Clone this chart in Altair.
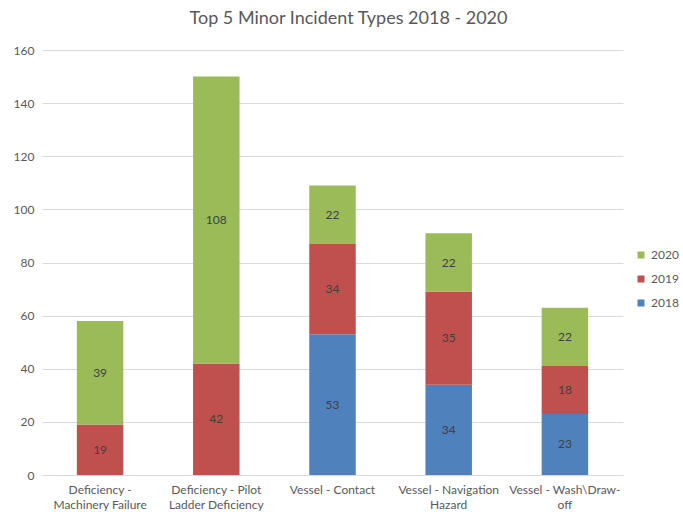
import json
import altair as alt
import pandas as pd

categories = [
    "Deficiency - Machinery Failure",
    "Deficiency - Pilot Ladder Deficiency",
    "Vessel - Contact",
    "Vessel - Navigation Hazard",
    "Vessel - Wash\\Draw-off",
]
tick_labels = [
    ["Deficiency -", "Machinery Failure"],
    ["Deficiency - Pilot", "Ladder Deficiency"],
    ["Vessel - Contact"],
    ["Vessel - Navigation", "Hazard"],
    ["Vessel - Wash\\Draw-", "off"],
]
years = ["2018", "2019", "2020"]
values_2018 = [0, 0, 53, 34, 23]
values_2019 = [19, 42, 34, 35, 18]
values_2020 = [39, 108, 22, 22, 22]
colors = {"2018": "#4F81BD", "2019": "#C0504D", "2020": "#9BBB59"}

rows = []
for yi, (yr, vals) in enumerate(zip(years, [values_2018, values_2019, values_2020])):
    for c, v in zip(categories, vals):
        if v > 0:
            rows.append({"category": c, "year": yr, "order": yi, "value": v})
df = pd.DataFrame(rows)

# label expression for multi-line tick labels
expr = "''"
for c, lines in reversed(list(zip(categories, tick_labels))):
    expr = f"datum.value == {json.dumps(c)} ? {json.dumps(lines)} : ({expr})"

FONT = "Lato"
GRAY = "#595959"

base = alt.Chart(df).transform_stack(
    stack="value", groupby=["category"], as_=["y0", "y1"],
    sort=[alt.SortField("order", order="ascending")]
).transform_calculate(mid="(datum.y0 + datum.y1) / 2")

x_enc = alt.X(
    "category:N", sort=categories, title=None,
    scale=alt.Scale(paddingInner=0.6, paddingOuter=0.3),
    axis=alt.Axis(labelAngle=0, labelExpr=expr, domainColor="#D9D9D9", ticks=False,
                  labelFont=FONT, labelFontSize=12, labelColor=GRAY, labelPadding=9,
                  labelLineHeight=15, labelBaseline="top"),
)

bars = base.mark_bar().encode(
    x=x_enc,
    y=alt.Y("y0:Q", title=None,
            scale=alt.Scale(domain=[0, 160], nice=False),
            axis=alt.Axis(values=list(range(0, 161, 20)), grid=True, gridColor="#D9D9D9",
                          domain=False, ticks=False, labelFont=FONT, labelFontSize=12,
                          labelColor=GRAY, labelPadding=8)),
    y2="y1:Q",
    color=alt.Color("year:N",
                    scale=alt.Scale(domain=["2020", "2019", "2018"],
                                    range=[colors["2020"], colors["2019"], colors["2018"]]),
                    legend=alt.Legend(title=None, orient="none", legendX=593, legendY=199,
                                      symbolType="square", symbolSize=49, symbolStrokeWidth=0,
                                      labelFont=FONT, labelFontSize=12, labelColor=GRAY,
                                      rowPadding=12, labelOffset=4, padding=0)),
)

labels = base.mark_text(font=FONT, fontSize=12, color="#404040").encode(
    x=alt.X("category:N", sort=categories),
    y=alt.Y("mid:Q"),
    text="value:Q",
)

chart = alt.layer(bars, labels).properties(
    width=581, height=425,
    autosize=alt.AutoSizeParams(type="none"),
    padding={"left": 42, "top": 50, "right": 60, "bottom": 46},
    title=alt.TitleParams("Top 5 Minor Incident Types 2018 - 2020", font=FONT, fontSize=18,
                          fontWeight="normal", color=GRAY, anchor="middle", dx=16, offset=16),
).configure_view(stroke=None)

chart.save("out.html", embed_options={"renderer": "svg", "actions": False})
